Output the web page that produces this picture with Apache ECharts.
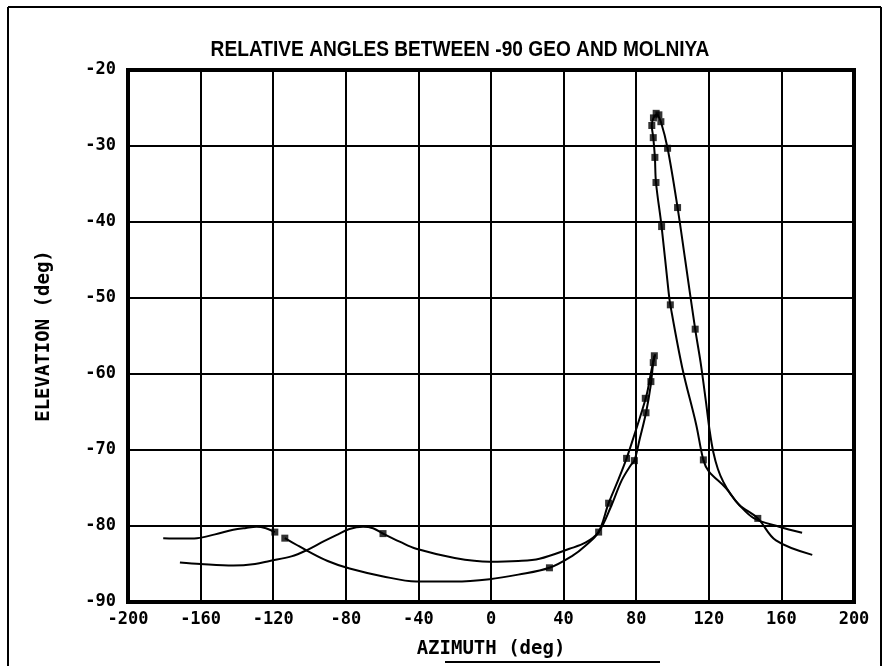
<!DOCTYPE html>
<html>
<head>
<meta charset="utf-8">
<script src="https://cdn.jsdelivr.net/npm/echarts@6/dist/echarts.min.js"></script>
<style>
  html, body { margin: 0; padding: 0; background: #fff; }
  #chart { width: 889px; height: 666px; }
</style>
</head>
<body>
<div id="chart"></div>
<script>
// Azimuth / elevation tracks (deg). Each pair of arrays is one continuous trace.
const trackA_az = [-180.6, -170, -162, -152, -142, -135, -129.2, -124, -119.1];
const trackA_el = [-81.6, -81.65, -81.6, -81.1, -80.5, -80.25, -80.1, -80.3, -80.8];

const trackB_az = [-113.6, -107, -101.7, -90, -77.9, -60, -41.2, -20, -0.8, 15, 32.2, 45, 52, 59.3, 64.8, 70, 74.7, 79, 83, 86, 88, 90];
const trackB_el = [-81.6, -82.5, -83.2, -84.6, -85.6, -86.6, -87.3, -87.3, -87.0, -86.4, -85.5, -83.9, -82.6, -80.8, -77.0, -74, -71.1, -68, -65, -62.5, -60, -57.6];

const trackC_az = [-171.4, -160, -142, -130, -121.9, -110, -101.7, -92, -85.2, -78, -70.5, -65, -59.5, -50, -41.2, -20, -0.8, 15, 26.7, 43.2, 52, 59.3, 66, 72, 77, 79, 82, 85.4, 88, 89.4, 90.5];
const trackC_el = [-84.8, -85.0, -85.2, -85.0, -84.6, -84.0, -83.2, -82.0, -81.2, -80.4, -80.1, -80.3, -81.0, -82.1, -83.0, -84.2, -84.7, -84.6, -84.3, -83.0, -82.2, -80.8, -77.5, -74, -72, -71.4, -68.5, -65.1, -61.5, -58.5, -57.4];

const trackD_az = [91.5, 93.6, 97.3, 102.8, 107, 112.5, 115.5, 118.4, 120.5, 122.5, 125, 128, 132, 137, 145, 158.7, 171.4];
const trackD_el = [-25.8, -26.8, -30.3, -38.1, -45, -54.1, -58.5, -63.6, -67.5, -70.3, -72.5, -74.2, -75.8, -77.3, -79.0, -80.1, -80.9];

const trackE_az = [91.5, 89.5, 88.6, 89.4, 90.3, 90.9, 94, 97.8, 98.8, 105.4, 113, 117, 120, 129.4, 136.7, 147, 157, 177];
const trackE_el = [-25.8, -26.3, -27.3, -28.9, -31.5, -34.8, -40.6, -49.1, -50.9, -59.2, -66.6, -71.3, -72.8, -75, -77.2, -79, -81.9, -83.8];

// Sample points drawn as square markers
const mark_az = [-119.1, -113.6, -59.5, 32.2, 59.3, 64.8, 74.7, 79, 85, 85.4, 88.1, 89.4, 90, 91, 92.5, 89.5, 88.6, 89.4, 90.3, 90.9, 94, 98.8, 93.6, 97.3, 102.8, 112.5, 117, 147];
const mark_el = [-80.8, -81.6, -81.0, -85.5, -80.8, -77, -71.1, -71.4, -63.2, -65.1, -61, -58.5, -57.6, -25.7, -25.9, -26.3, -27.3, -28.9, -31.5, -34.8, -40.6, -50.9, -26.8, -30.3, -38.1, -54.1, -71.3, -79];

const xTicks = [-200, 200, 40];   // min, max, step
const yTicks = [-90, -20, 10];

const pairs = (a, b) => a.map((v, i) => [v, b[i]]);
const tracks = [
  pairs(trackA_az, trackA_el),
  pairs(trackB_az, trackB_el),
  pairs(trackC_az, trackC_el),
  pairs(trackD_az, trackD_el),
  pairs(trackE_az, trackE_el)
];

const monoFont = 'DejaVu Sans Mono';
const chart = echarts.init(document.getElementById('chart'), null, { renderer: 'canvas' });

const edge = { stroke: '#000', lineWidth: 2 };
chart.setOption({
  backgroundColor: '#fff',
  animation: false,
  graphic: [
    // page frame
    { type: 'line', shape: { x1: 8, y1: 7, x2: 8, y2: 666 }, style: edge, silent: true },
    { type: 'line', shape: { x1: 8, y1: 7, x2: 881, y2: 7 }, style: edge, silent: true },
    { type: 'line', shape: { x1: 881, y1: 7, x2: 881, y2: 666 }, style: edge, silent: true },
    { type: 'line', shape: { x1: 445, y1: 662, x2: 660, y2: 662 }, style: edge, silent: true },
    // heading, slightly condensed
    {
      type: 'text', x: 460, y: 50, scaleX: 0.87, originX: 0, originY: 0,
      style: {
        text: 'RELATIVE ANGLES BETWEEN -90 GEO AND MOLNIYA',
        fill: '#000', font: 'bold 22px "Liberation Sans", Arial, sans-serif',
        textAlign: 'center', textVerticalAlign: 'middle'
      }
    }
  ],
  grid: {
    left: 128, right: 35, top: 70, bottom: 64,
    show: true, borderColor: '#000', borderWidth: 4, backgroundColor: 'transparent'
  },
  xAxis: {
    type: 'value', min: xTicks[0], max: xTicks[1], interval: xTicks[2],
    name: 'AZIMUTH (deg)', nameLocation: 'middle', nameGap: 38,
    nameTextStyle: { fontFamily: monoFont, fontWeight: 'bold', fontSize: 19, color: '#000' },
    axisLine: { show: false }, axisTick: { show: false },
    axisLabel: { fontFamily: monoFont, fontWeight: 'bold', fontSize: 17, color: '#000', margin: 9 },
    splitLine: { show: true, lineStyle: { color: '#000', width: 2 } }
  },
  yAxis: {
    type: 'value', min: yTicks[0], max: yTicks[1], interval: yTicks[2],
    name: 'ELEVATION (deg)', nameLocation: 'middle', nameGap: 74, nameRotate: 90,
    nameTextStyle: { fontFamily: monoFont, fontWeight: 'bold', fontSize: 19, color: '#000' },
    axisLine: { show: false }, axisTick: { show: false },
    axisLabel: { fontFamily: monoFont, fontWeight: 'bold', fontSize: 17, color: '#000', margin: 12 },
    splitLine: { show: true, lineStyle: { color: '#000', width: 2 } }
  },
  series: tracks.map(d => ({
    type: 'line', data: d, smooth: 0.35, showSymbol: false,
    lineStyle: { color: '#000', width: 2 }, z: 3
  })).concat([{
    type: 'scatter', data: pairs(mark_az, mark_el), symbol: 'rect', symbolSize: 7,
    itemStyle: { color: '#000' }, z: 4
  }])
});
</script>
</body>
</html>
